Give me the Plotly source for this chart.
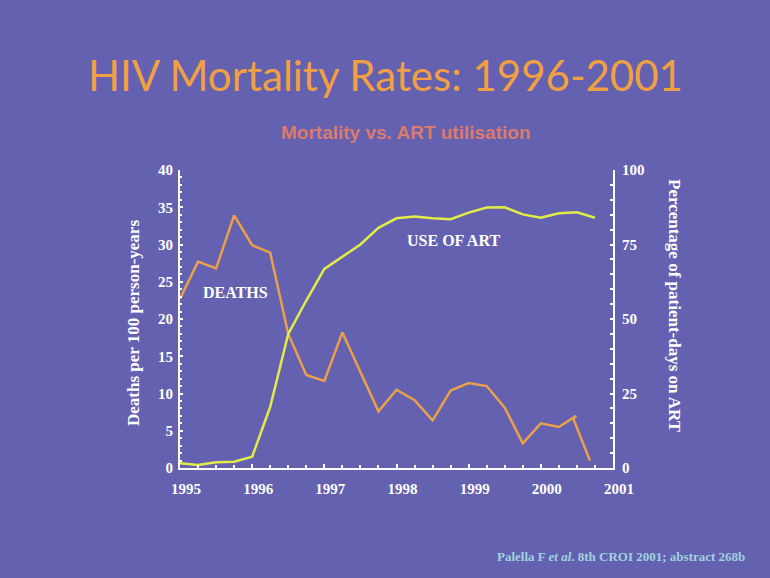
import plotly.graph_objects as go

# ---- data ----
death_years = [1995.0, 1995.25, 1995.5, 1995.75, 1996.0, 1996.25, 1996.5, 1996.75,
               1997.0, 1997.25, 1997.5, 1997.75, 1998.0, 1998.25, 1998.5, 1998.75,
               1999.0, 1999.25, 1999.5, 1999.75, 2000.0, 2000.25, 2000.49, 2000.45, 2000.68]
deaths = [22.7, 27.7, 26.8, 33.9, 29.9, 28.9, 18.0, 12.5,
          11.7, 18.2, 12.9, 7.6, 10.5, 9.1, 6.4, 10.4,
          11.4, 11.0, 8.1, 3.3, 6.0, 5.5, 7.0, 6.6, 1.0]

art_years = [1995.0, 1995.25, 1995.5, 1995.75, 1996.0, 1996.25, 1996.5, 1996.75,
             1997.0, 1997.25, 1997.5, 1997.75, 1998.0, 1998.25, 1998.5, 1998.75,
             1999.0, 1999.25, 1999.5, 1999.75, 2000.0, 2000.25, 2000.5, 2000.75]
art_use = [1.6, 1.0, 1.9, 2.1, 3.8, 20.5, 45.0, 56.2,
           66.8, 71.0, 75.0, 80.6, 83.8, 84.4, 83.8, 83.5,
           85.7, 87.4, 87.5, 85.1, 84.0, 85.5, 85.8, 84.0]

year_ticks = [1995, 1996, 1997, 1998, 1999, 2000, 2001]
year_labels = [str(y) for y in year_ticks]
left_ticks = [0, 5, 10, 15, 20, 25, 30, 35, 40]
right_ticks = [0, 25, 50, 75, 100]

BG = "#6461B1"
ORANGE = "#E9A04B"
YELLOW = "#E2EC48"
SERIF = "Liberation Serif"

fig = go.Figure()
fig.add_trace(go.Scatter(x=death_years, y=deaths, mode="lines",
                         line=dict(color=ORANGE, width=2.5), yaxis="y", name="DEATHS"))
fig.add_trace(go.Scatter(x=art_years, y=art_use, mode="lines",
                         line=dict(color=YELLOW, width=2.5), yaxis="y2", name="USE OF ART"))

tickfont = dict(family=SERIF, size=15, color="white", weight="bold")

fig.update_layout(
    width=770, height=578,
    margin=dict(l=180, r=157, t=170, b=110),
    paper_bgcolor=BG, plot_bgcolor=BG,
    showlegend=False,
    xaxis=dict(range=[1995, 2001], tickvals=year_ticks, ticktext=year_labels,
               showline=True, linecolor="white", linewidth=2,
               ticks="inside", ticklen=4, tickwidth=2, tickcolor="white",
               minor=dict(dtick=0.25, ticks="inside", ticklen=3, tickwidth=2, tickcolor="white"),
               showgrid=False, zeroline=False, tickfont=tickfont,
               ticklabelstandoff=6, ticklabelshift=6),
    yaxis=dict(range=[0, 40], tickvals=left_ticks,
               showline=True, linecolor="white", linewidth=2,
               ticks="inside", ticklen=3, tickwidth=2, tickcolor="white",
               minor=dict(dtick=1, ticks="inside", ticklen=2, tickwidth=2, tickcolor="white"),
               showgrid=False, zeroline=False, tickfont=tickfont, ticklabelstandoff=2),
    yaxis2=dict(range=[0, 100], tickvals=right_ticks, overlaying="y", side="right",
                showline=True, linecolor="white", linewidth=2,
                ticks="inside", ticklen=3, tickwidth=2, tickcolor="white",
                minor=dict(dtick=5, ticks="inside", ticklen=3, tickwidth=2, tickcolor="white"),
                showgrid=False, zeroline=False, tickfont=tickfont, ticklabelstandoff=4),
)

def px_x(px):
    return (px - 180) / 433.0

def px_y(py):
    return (468 - py) / 298.0

annots = [
    dict(text="HIV Mortality Rates: 1996-2001", x=px_x(385), y=px_y(75),
         font=dict(family="Lato", size=42, color="#F0A043")),
    dict(text="Mortality vs. ART utilisation", x=px_x(406), y=px_y(132),
         font=dict(family="Liberation Sans", size=19, color="#DB7B6C", weight="bold")),
    dict(text="Deaths per 100 person-years", x=px_x(133), y=px_y(323), textangle=-90,
         font=dict(family=SERIF, size=17, color="white", weight="bold")),
    dict(text="Percentage of patient-days on ART", x=px_x(675), y=px_y(306), textangle=90,
         font=dict(family=SERIF, size=17, color="white", weight="bold")),
    dict(text="DEATHS", x=px_x(235), y=px_y(292),
         font=dict(family=SERIF, size=16, color="white", weight="bold")),
    dict(text="USE OF ART", x=px_x(453), y=px_y(240),
         font=dict(family=SERIF, size=16, color="white", weight="bold")),
    dict(text="Palella F <i>et al</i>. 8th CROI 2001; abstract 268b", x=px_x(621), y=px_y(556),
         font=dict(family=SERIF, size=13, color="#9FD2DE", weight="bold")),
]
for a in annots:
    a.update(xref="paper", yref="paper", showarrow=False, xanchor="center", yanchor="middle")
fig.update_layout(annotations=annots)

fig.write_html("out.html",
               config={"displayModeBar": False},
               post_script="document.body.style.margin='0';document.body.style.background='%s';" % BG)
